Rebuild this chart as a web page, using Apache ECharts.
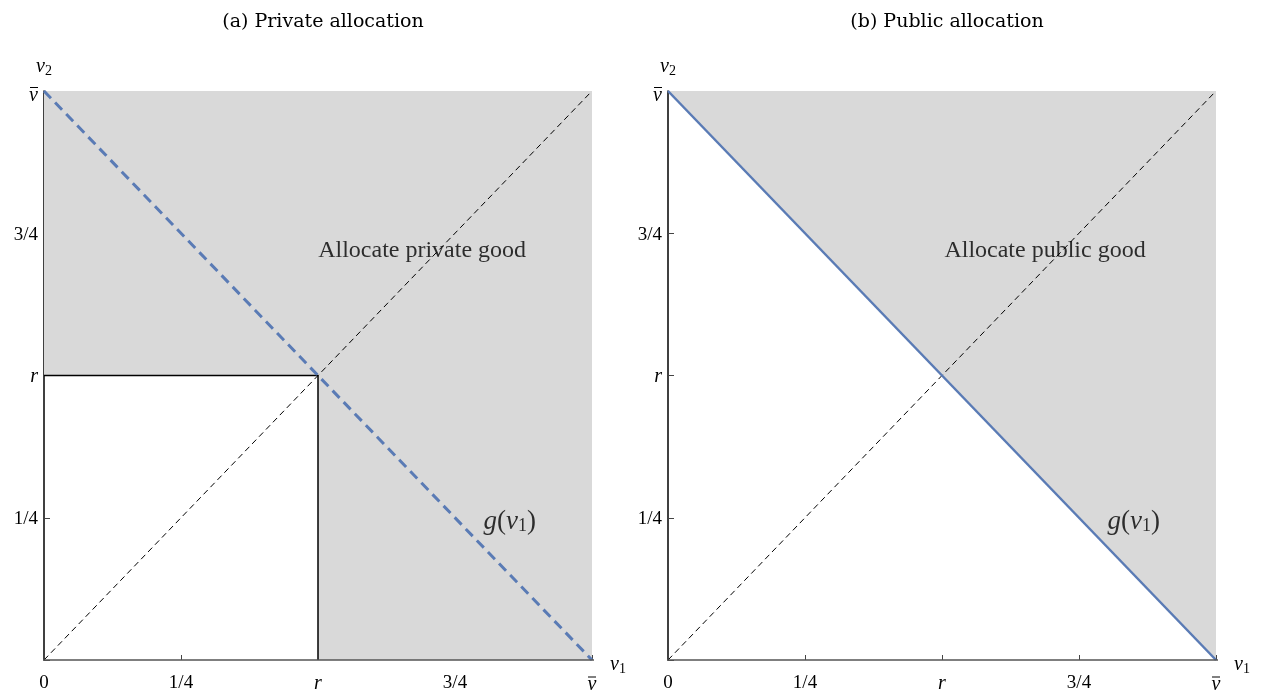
<!DOCTYPE html>
<html><head><meta charset="utf-8">
<script src="https://cdn.jsdelivr.net/npm/echarts@6/dist/echarts.min.js"></script>
<style>html,body{margin:0;padding:0;background:#fff}#c{width:1261px;height:693px}</style>
</head><body><div id="c"></div>
<script>
const panelTitles = ['(a) Private allocation', '(b) Public allocation'];
const tickValues = [0, 0.25, 0.5, 0.75, 1];
const xTickLabels = ['0', '1/4', '{i|r}', '3/4', '{bar|}\n{o|v}'];
const yTickLabels = ['', '1/4', '{i|r}', '3/4', '{bar|}\n{o|v}'];
const privateRegion = [[0, 0.5], [0.5, 0.5], [0.5, 0], [1, 0], [1, 1], [0, 1]];
const publicRegion = [[0, 1], [1, 0], [1, 1]];
const reserveBorder = [[0, 0.5], [0.5, 0.5], [0.5, 0]];
const diagonal = [[0, 0], [1, 1]];
const gLine = [[0, 1], [1, 0]];
const xAxisSpan = [[-0.02, 0], [1.024, 0]];
const regionLabels = [[0.69, 0.72, 'Allocate private good'], [0.688, 0.72, 'Allocate public good']];
const gLabel = [0.85, 0.243];

const FONT = 'Liberation Serif';
const TFONT = 'DejaVu Serif';
const BLUE = '#5a7bb5';
const GREY = '#d9d9d9';
const rich = {
  i: {fontStyle: 'italic', fontFamily: FONT, fontSize: 20, color: '#000'},
  o: {fontStyle: 'italic', fontFamily: FONT, fontSize: 20, color: '#000', lineHeight: 10},
  bar: {width: 8, height: 1, lineHeight: 6, backgroundColor: '#000'}
};
const nameRich = {
  i: {fontStyle: 'italic', fontFamily: FONT, fontSize: 20, color: '#000'},
  s: {fontFamily: FONT, fontSize: 14, color: '#000', padding: [8, 0, 0, 0]}
};
const grids = [
  {left: 44, top: 91, width: 548, height: 569, outerBoundsMode: 'none', containLabel: false},
  {left: 668, top: 91, width: 548, height: 569, outerBoundsMode: 'none', containLabel: false}
];
function fmt(labels) { return v => { const k = tickValues.indexOf(Math.round(v * 100) / 100); return k >= 0 ? labels[k] : ''; }; }
const xAxes = grids.map((g, i) => ({
  type: 'value', gridIndex: i, min: 0, max: 1, interval: 0.25,
  name: '{i|v}{s|1}', nameLocation: 'end', nameGap: 18,
  nameTextStyle: {rich: nameRich, verticalAlign: 'top', padding: [-6, 0, 0, 0]},
  axisLine: {show: false},
  axisTick: {show: true, inside: true, length: 5, lineStyle: {color: '#444', width: 1}},
  axisLabel: {formatter: fmt(xTickLabels), margin: 14, fontFamily: FONT, fontSize: 19, color: '#000', rich: rich, showMinLabel: true, showMaxLabel: true},
  splitLine: {show: false}
}));
const yAxes = grids.map((g, i) => ({
  type: 'value', gridIndex: i, min: 0, max: 1, interval: 0.25,
  name: '{i|v}{s|2}', nameLocation: 'end', nameGap: -2,
  nameTextStyle: {rich: nameRich},
  axisLine: {show: true, onZero: false, lineStyle: {color: '#000', width: 1.5}},
  axisTick: {show: true, inside: true, length: 6, lineStyle: {color: '#444', width: 1}},
  axisLabel: {formatter: fmt(yTickLabels), margin: 6, padding: [3, 0, 0, 0], fontFamily: FONT, fontSize: 19, color: '#000', rich: rich, showMinLabel: true, showMaxLabel: true},
  splitLine: {show: false}
}));
function regionSeries(idx, pts) {
  return {
    type: 'custom', xAxisIndex: idx, yAxisIndex: idx, data: [[0, 0]], clip: false, z: 1, silent: true,
    renderItem: (params, api) => ({
      type: 'polygon',
      shape: {points: pts.map(p => api.coord(p))},
      style: {fill: GREY, stroke: null}
    })
  };
}
function lineSeries(idx, data, style, z) {
  return {type: 'line', xAxisIndex: idx, yAxisIndex: idx, data: data, showSymbol: false, symbol: 'none', clip: false, silent: true, lineStyle: style, z: z, animation: false};
}
function labelSeries(idx, pt, text, size, richLbl) {
  return {
    type: 'scatter', xAxisIndex: idx, yAxisIndex: idx, symbolSize: 0, data: [pt], silent: true, z: 10,
    label: {show: true, position: 'inside', formatter: text, fontFamily: FONT, fontSize: size, color: '#000', textBorderWidth: 0, rich: richLbl}
  };
}
const gRich = {
  i: {fontStyle: 'italic', fontFamily: FONT, fontSize: 27, color: '#000'},
  n: {fontFamily: FONT, fontSize: 27, color: '#000'},
  s: {fontFamily: FONT, fontSize: 18, color: '#000', padding: [10, 0, 0, 0]}
};
const gText = '{i|g}{n|(}{i|v}{s|1}{n|)}';
const series = [
  regionSeries(0, privateRegion),
  regionSeries(1, publicRegion),
  lineSeries(0, reserveBorder, {color: '#000', width: 1.5}, 3),
  lineSeries(0, diagonal, {color: '#000', width: 1, type: [6, 4]}, 4),
  lineSeries(1, diagonal, {color: '#000', width: 1, type: [6, 4]}, 4),
  lineSeries(0, gLine, {color: BLUE, width: 3, type: [10, 6]}, 5),
  lineSeries(1, gLine, {color: BLUE, width: 2.5}, 5),
  lineSeries(0, xAxisSpan, {color: '#555', width: 1.5}, 6),
  lineSeries(1, xAxisSpan, {color: '#555', width: 1.5}, 6),
  labelSeries(0, [regionLabels[0][0], regionLabels[0][1]], regionLabels[0][2], 24),
  labelSeries(1, [regionLabels[1][0], regionLabels[1][1]], regionLabels[1][2], 24),
  labelSeries(0, gLabel, gText, 27, gRich),
  labelSeries(1, gLabel, gText, 27, gRich)
];
const chart = echarts.init(document.getElementById('c'), null, {renderer: 'canvas'});
chart.setOption({
  animation: false,
  title: panelTitles.map((t, i) => ({
    text: t, left: grids[i].left + grids[i].width / 2, top: 8, textAlign: 'center',
    textStyle: {fontFamily: TFONT, fontSize: 19, fontWeight: 'normal', color: '#000'}
  })),
  grid: grids,
  xAxis: xAxes,
  yAxis: yAxes,
  series: series
});
</script></body></html>
